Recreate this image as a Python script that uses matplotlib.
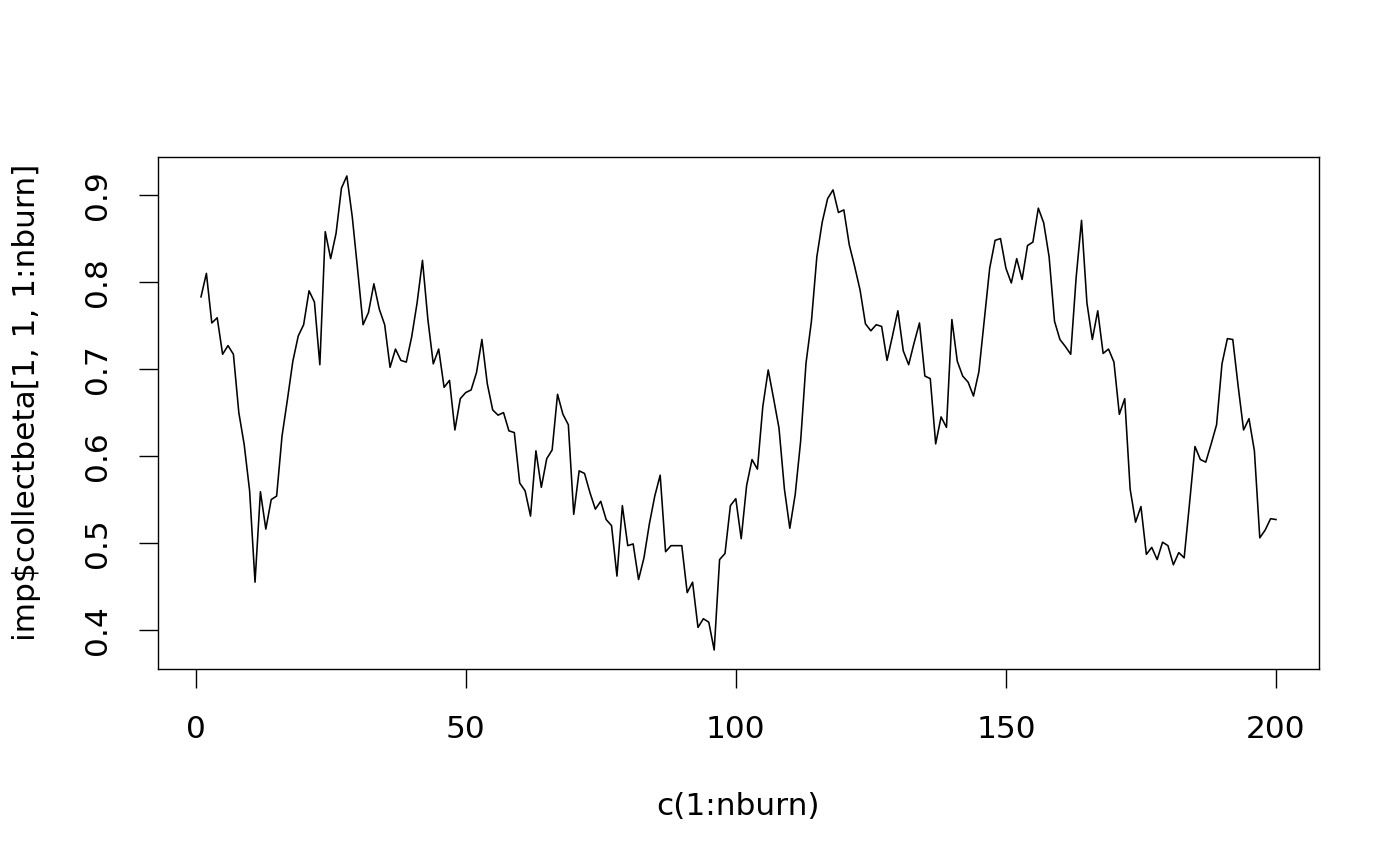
import matplotlib
matplotlib.use("Agg")
import matplotlib.pyplot as plt
import numpy as np

iterations = list(range(1, 201))
beta = [
    0.783, 0.810, 0.753, 0.759, 0.717, 0.727, 0.717, 0.650, 0.613, 0.560,
    0.455, 0.559, 0.516, 0.550, 0.554, 0.623, 0.665, 0.709, 0.738, 0.751,
    0.790, 0.777, 0.705, 0.858, 0.827, 0.856, 0.908, 0.922, 0.875, 0.814,
    0.751, 0.765, 0.798, 0.769, 0.751, 0.702, 0.723, 0.710, 0.708, 0.737,
    0.776, 0.825, 0.757, 0.706, 0.723, 0.679, 0.687, 0.630, 0.666, 0.673,
    0.676, 0.696, 0.734, 0.683, 0.653, 0.647, 0.650, 0.629, 0.627, 0.569,
    0.560, 0.531, 0.606, 0.564, 0.597, 0.607, 0.671, 0.648, 0.636, 0.533,
    0.583, 0.580, 0.558, 0.539, 0.548, 0.527, 0.520, 0.462, 0.543, 0.497,
    0.499, 0.458, 0.483, 0.522, 0.554, 0.578, 0.490, 0.497, 0.497, 0.497,
    0.443, 0.455, 0.403, 0.413, 0.409, 0.377, 0.481, 0.488, 0.543, 0.551,
    0.505, 0.566, 0.596, 0.585, 0.657, 0.699, 0.666, 0.632, 0.562, 0.517,
    0.556, 0.617, 0.707, 0.755, 0.829, 0.869, 0.896, 0.906, 0.880, 0.883,
    0.843, 0.818, 0.791, 0.752, 0.744, 0.751, 0.749, 0.710, 0.738, 0.767,
    0.721, 0.705, 0.730, 0.753, 0.692, 0.689, 0.614, 0.645, 0.633, 0.757,
    0.709, 0.692, 0.685, 0.669, 0.697, 0.757, 0.816, 0.848, 0.850, 0.816,
    0.799, 0.827, 0.803, 0.842, 0.846, 0.885, 0.868, 0.829, 0.755, 0.734,
    0.726, 0.717, 0.805, 0.871, 0.776, 0.734, 0.767, 0.718, 0.723, 0.708,
    0.648, 0.666, 0.562, 0.524, 0.542, 0.487, 0.495, 0.481, 0.501, 0.497,
    0.475, 0.489, 0.483, 0.546, 0.611, 0.596, 0.593, 0.614, 0.636, 0.706,
    0.735, 0.734, 0.680, 0.630, 0.643, 0.606, 0.506, 0.515, 0.528, 0.527,
]
xticks = [0, 50, 100, 150, 200]
yticks = [0.4, 0.5, 0.6, 0.7, 0.8, 0.9]
xlabel = "c(1:nburn)"
ylabel = "imp$collectbeta[1, 1, 1:nburn]"

plt.rcParams['font.family'] = ['DejaVu Sans']
fig = plt.figure(figsize=(14, 8.66), dpi=100)
ax = fig.add_axes([158/1400, 1 - 669/866, (1319-158)/1400, (669-157)/866])

ax.plot(iterations, beta, color='black', lw=1.15)

# R-style 4% range extension
xmin, xmax = min(iterations), max(iterations)
ymin, ymax = min(beta), max(beta)
dx = (xmax - xmin) * 0.04
dy = (ymax - ymin) * 0.04
ax.set_xlim(xmin - dx, xmax + dx)
ax.set_ylim(ymin - dy, ymax + dy)

ax.set_xticks(xticks)
ax.set_yticks(yticks)
ax.set_xticklabels([str(t) for t in xticks])
ax.set_yticklabels([f"{t:.1f}" for t in yticks], rotation=90, va='center')

fs = 22.5
ax.tick_params(axis='both', direction='out', length=14, width=1.0, labelsize=fs, pad=19, color='black')
for s in ax.spines.values():
    s.set_linewidth(1.0)
    s.set_color('black')

ax.set_xlabel(xlabel, fontsize=fs)
ax.set_ylabel(ylabel, fontsize=fs)
ax.xaxis.set_label_coords(0.5, -(792 - 669) / 512)
ax.yaxis.set_label_coords(-(158 - 41) / 1161, 0.52)

fig.savefig("out.png", dpi=100)
